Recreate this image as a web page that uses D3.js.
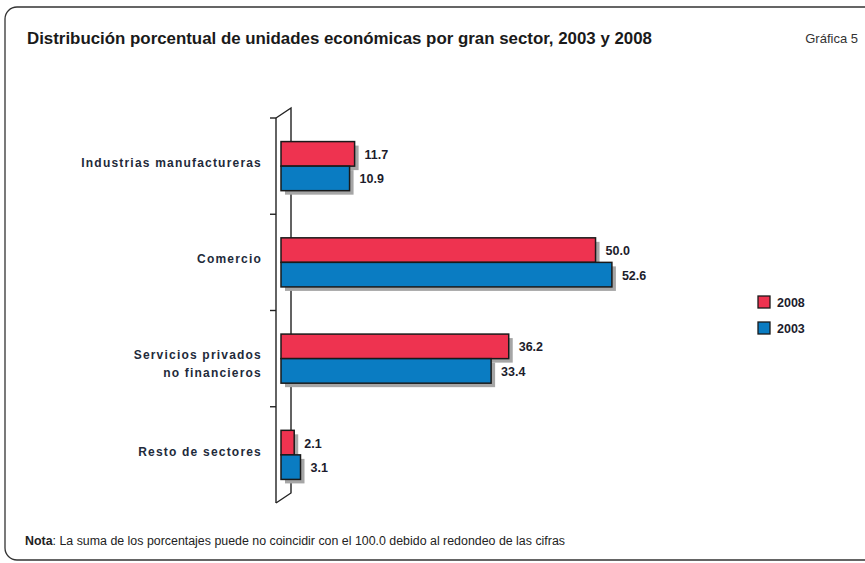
<!DOCTYPE html>
<html>
<head>
<meta charset="utf-8">
<script src="https://cdn.jsdelivr.net/npm/d3@7"></script>
<style>
  body { margin: 0; background: #fff; }
  text { font-family: "Liberation Sans", Arial, sans-serif; }
</style>
</head>
<body>
<div id="chart"></div>
<script>
// data
const sectors = ["Industrias manufactureras", "Comercio", "Servicios privados\nno financieros", "Resto de sectores"];
const years = ["2008", "2003"];
const values2008 = [11.7, 50.0, 36.2, 2.1];
const values2003 = [10.9, 52.6, 33.4, 3.1];
const yearColors = ["#ee3350", "#0a7cc2"];

const data = sectors.map((s, i) => ({
    sector: s,
    vals: [{year: "2008", v: values2008[i]}, {year: "2003", v: values2003[i]}]
}));

const W = 865, H = 563;
const svg = d3.select("#chart").append("svg")
    .attr("width", W)
    .attr("height", H);

// frame
svg.append("rect")
    .attr("x", 5).attr("y", 7)
    .attr("width", 880).attr("height", 553)
    .attr("rx", 12)
    .attr("fill", "none")
    .attr("stroke", "#333")
    .attr("stroke-width", 1.3);

// title
svg.append("text")
    .attr("x", 27).attr("y", 44)
    .style("font-size", "16px")
    .style("font-weight", "bold")
    .attr("fill", "#1a1a1a")
    .attr("textLength", 625)
    .attr("lengthAdjust", "spacingAndGlyphs")
    .text("Distribución porcentual de unidades económicas por gran sector, 2003 y 2008");

svg.append("text")
    .attr("x", 858).attr("y", 43)
    .attr("text-anchor", "end")
    .style("font-size", "13px")
    .attr("fill", "#333")
    .text("Gráfica 5");

// scales
const x = d3.scaleLinear()
    .domain([0, 55])
    .range([281, 627]);

const y = d3.scaleBand()
    .domain(sectors)
    .range([118, 503])
    .paddingInner(0.49)
    .paddingOuter(0.245);

const ySub = d3.scaleBand()
    .domain(years)
    .range([0, y.bandwidth()]);

const color = d3.scaleOrdinal().domain(years).range(yearColors);

// pseudo 3d axis (back wall + front edge)
const depthX = 15, depthY = 10;
const axisG = svg.append("g").attr("stroke", "#222").attr("stroke-width", 1.4).attr("fill", "none");
const backX = x(0) - 5;
axisG.append("path")
    .attr("d", `M${backX},${y.range()[0]} L${backX},${y.range()[1]}`);
axisG.append("path")
    .attr("d", `M${backX},${y.range()[0]} L${backX + depthX},${y.range()[0] - depthY} L${backX + depthX},${y.range()[1] - depthY} L${backX},${y.range()[1]}`);

// ticks between categories
const tickYs = [y.range()[0]].concat(sectors.slice(1).map(s => y(s) - y.step() * y.paddingInner() / 2));
axisG.selectAll("line.tick")
    .data(tickYs)
    .join("line")
        .attr("class", "tick")
        .attr("x1", backX - 6)
        .attr("x2", backX)
        .attr("y1", d => d)
        .attr("y2", d => d);

// category labels
const catLabels = svg.append("g")
    .selectAll("text")
    .data(sectors)
    .join("text")
        .attr("text-anchor", "end")
        .attr("fill", "#222a3a")
        .style("font-size", "12px")
        .style("font-weight", "bold")
        .style("letter-spacing", "1.2px");

catLabels.each(function(d) {
    const lines = d.split("\n");
    const cy = y(d) + y.bandwidth() / 2;
    d3.select(this).selectAll("tspan")
        .data(lines)
        .join("tspan")
            .attr("x", 262)
            .attr("y", (l, i) => cy + (lines.length > 1 ? 9 : 1) + (i - (lines.length - 1) / 2) * 18)
            .text(l => l);
});

// bars
const groups = svg.append("g")
    .selectAll("g")
    .data(data)
    .join("g")
        .attr("transform", d => `translate(0, ${y(d.sector)})`);

// shadows
groups.selectAll("rect.shadow")
    .data(d => d.vals)
    .join("rect")
        .attr("class", "shadow")
        .attr("x", x(0) + 4)
        .attr("y", d => ySub(d.year) + 4)
        .attr("width", d => x(d.v) - x(0))
        .attr("height", ySub.bandwidth())
        .attr("fill", "#a6a6a6");

groups.selectAll("rect.bar")
    .data(d => d.vals)
    .join("rect")
        .attr("class", "bar")
        .attr("x", x(0))
        .attr("y", d => ySub(d.year))
        .attr("width", d => x(d.v) - x(0))
        .attr("height", ySub.bandwidth())
        .attr("fill", d => color(d.year))
        .attr("stroke", "#1a1a1a")
        .attr("stroke-width", 1.5);

groups.selectAll("text.val")
    .data(d => d.vals)
    .join("text")
        .attr("class", "val")
        .attr("x", d => x(d.v) + 10)
        .attr("y", d => ySub(d.year) + ySub.bandwidth() / 2 + 5)
        .attr("fill", "#1c1c2c")
        .style("font-size", "12.5px")
        .style("font-weight", "bold")
        .text(d => d3.format(".1f")(d.v));

// legend
const legend = svg.append("g")
    .selectAll("g")
    .data(years)
    .join("g")
        .attr("transform", (d, i) => `translate(758, ${296 + i * 26})`);

legend.append("rect")
    .attr("width", 12).attr("height", 12)
    .attr("fill", d => color(d))
    .attr("stroke", "#1a1a1a")
    .attr("stroke-width", 1.3);

legend.append("text")
    .attr("x", 19).attr("y", 11)
    .attr("fill", "#1c1c2c")
    .style("font-size", "12.5px")
    .style("font-weight", "bold")
    .text(d => d);

// note
const note = svg.append("text")
    .attr("x", 25).attr("y", 545)
    .attr("fill", "#222")
    .style("font-size", "12px")
    .attr("textLength", 540)
    .attr("lengthAdjust", "spacingAndGlyphs");
note.append("tspan").style("font-weight", "bold").text("Nota");
note.append("tspan").text(": La suma de los porcentajes puede no coincidir con el 100.0 debido al redondeo de las cifras");
</script>
</body>
</html>
